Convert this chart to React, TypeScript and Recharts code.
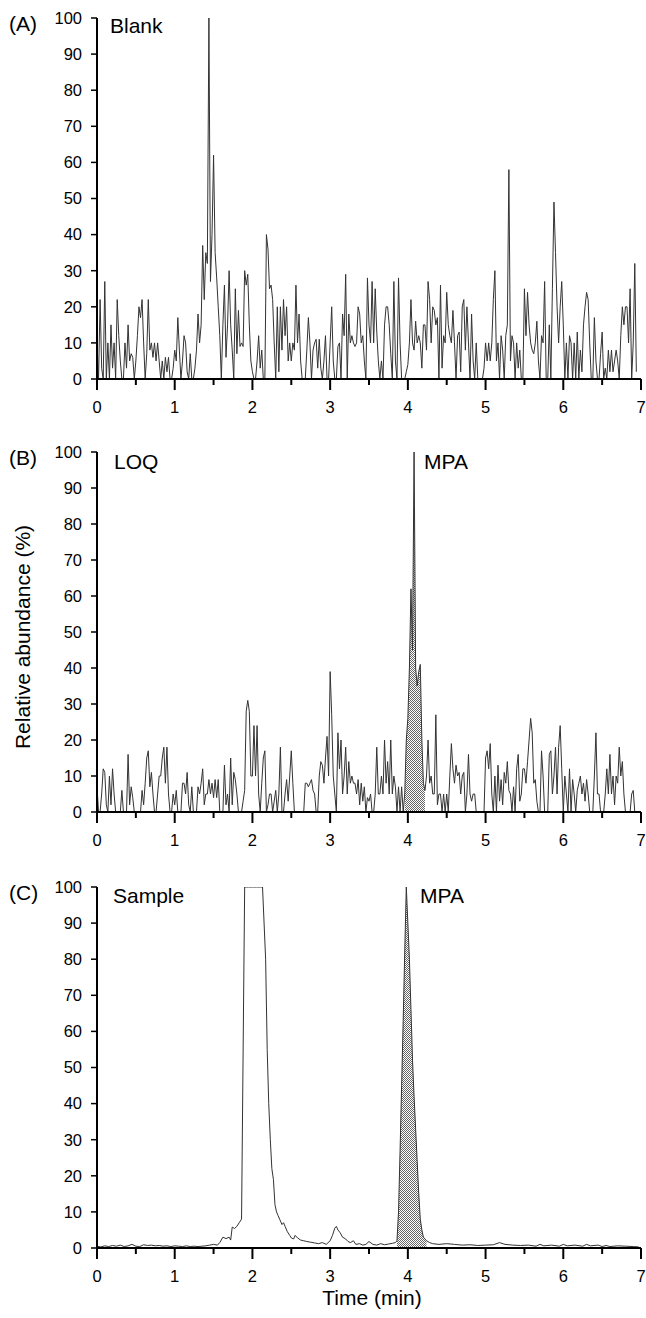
import { ComposedChart, Line, Area, XAxis, YAxis } from "recharts";

const FONT = '"Liberation Sans", Arial, sans-serif';

// sampling step of the noisy traces (min)
const STEP = 0.02;

// (A) Blank – relative abundance every 0.02 min from 0 to 6.94
const BLANK = [
  10, 0, 22, 3, 0, 27, 0, 10, 0, 15, 3, 10, 0, 22, 12, 5, 0, 0, 10, 3, 15, 5, 7, 6, 0,
  5, 12, 20, 17, 22, 10, 0, 7, 22, 8, 10, 6, 10, 5, 10, 5, 0, 5, 0, 6, 2, 6, 0, 0, 3,
  8, 5, 17, 8, 0, 5, 12, 10, 2, 0, 7, 0, 0, 3, 8, 18, 10, 15, 37, 22, 35, 32, 100, 27, 40,
  62, 35, 28, 20, 12, 0, 15, 26, 6, 15, 30, 15, 8, 0, 25, 7, 19, 9, 10, 9, 30, 26, 29, 15, 5,
  2, 0, 0, 5, 12, 3, 8, 0, 0, 40, 36, 25, 26, 22, 10, 0, 20, 2, 20, 8, 22, 12, 20, 5, 10,
  5, 10, 8, 26, 10, 18, 5, 0, 0, 0, 8, 17, 10, 0, 8, 10, 11, 3, 11, 3, 0, 5, 12, 0, 0,
  10, 20, 5, 0, 0, 9, 10, 0, 18, 12, 29, 0, 18, 10, 12, 10, 9, 10, 20, 18, 10, 12, 5, 0, 28,
  15, 10, 27, 10, 25, 13, 5, 0, 5, 0, 15, 20, 20, 15, 7, 0, 27, 5, 0, 28, 10, 0, 0, 0, 2,
  4, 10, 22, 10, 8, 16, 10, 12, 10, 3, 15, 15, 8, 27, 22, 10, 20, 19, 15, 17, 0, 26, 3, 12, 10,
  24, 15, 12, 10, 19, 10, 0, 12, 13, 2, 20, 22, 8, 20, 10, 0, 18, 5, 0, 10, 0, 0, 0, 0, 3,
  10, 5, 10, 5, 10, 22, 30, 5, 10, 0, 12, 8, 0, 12, 15, 58, 5, 12, 10, 0, 10, 3, 8, 0, 0,
  25, 12, 24, 15, 10, 8, 7, 10, 16, 5, 0, 12, 10, 27, 0, 0, 15, 0, 25, 49, 35, 20, 10, 20, 27,
  15, 0, 10, 0, 12, 10, 0, 10, 0, 13, 0, 8, 2, 15, 20, 24, 22, 10, 0, 0, 17, 5, 0, 0, 7,
  13, 0, 3, 0, 8, 2, 8, 2, 5, 8, 5, 0, 12, 20, 15, 20, 20, 10, 25, 0, 10, 32, 2,
];

// (B) LOQ – every 0.02 min from 0 to 6.92
const LOQ = [
  7, 0, 0, 5, 12, 11, 2, 0, 10, 2, 12, 5, 0, 0, 0, 0, 6, 0, 0, 0, 16, 2, 7, 4, 0,
  0, 0, 0, 0, 6, 2, 8, 15, 17, 7, 11, 5, 0, 0, 5, 10, 10, 15, 18, 8, 18, 5, 0, 0, 5,
  2, 6, 0, 0, 0, 8, 8, 5, 11, 2, 0, 7, 0, 0, 0, 7, 5, 8, 12, 2, 5, 5, 9, 5, 8,
  4, 9, 4, 9, 0, 0, 0, 13, 2, 5, 0, 15, 2, 11, 9, 5, 0, 0, 0, 3, 6, 28, 31, 28, 10,
  10, 24, 10, 24, 5, 0, 8, 15, 17, 0, 2, 5, 5, 0, 3, 6, 0, 5, 18, 0, 0, 5, 9, 3, 10,
  17, 8, 0, 0, 0, 0, 0, 0, 0, 8, 8, 7, 8, 9, 6, 5, 0, 0, 10, 14, 13, 8, 15, 21, 10,
  39, 27, 10, 5, 0, 22, 12, 20, 5, 10, 18, 5, 14, 8, 10, 8, 8, 5, 9, 2, 8, 3, 7, 0, 4,
  3, 5, 0, 0, 5, 18, 5, 5, 10, 5, 20, 8, 14, 5, 20, 5, 10, 7, 0, 7, 0, 7, 0, 5, 20,
  26, 40, 62, 45, 100, 40, 35, 39, 41, 20, 8, 6, 10, 20, 8, 10, 5, 5, 27, 2, 5, 5, 0, 5, 0,
  5, 0, 10, 19, 12, 8, 13, 10, 11, 5, 10, 11, 0, 5, 16, 5, 3, 5, 5, 0, 0, 0, 0, 0, 0,
  15, 17, 12, 19, 5, 0, 10, 0, 13, 3, 9, 2, 11, 8, 14, 6, 5, 0, 7, 0, 12, 16, 3, 5, 12,
  12, 8, 14, 20, 26, 22, 8, 9, 3, 0, 0, 17, 10, 0, 0, 0, 16, 17, 5, 10, 18, 5, 18, 24, 12,
  0, 10, 5, 0, 12, 0, 9, 5, 0, 6, 8, 10, 5, 8, 3, 9, 5, 0, 0, 0, 10, 22, 5, 5, 0,
  0, 0, 5, 12, 5, 16, 5, 10, 2, 10, 8, 18, 10, 14, 5, 0, 0, 0, 0, 5, 6, 0,
];
const LOQ_PEAK = [3.96, 4.22];

// (C) Sample – smoother trace, irregular time points
const SAMPLE_T = [
  0, 0.05, 0.1, 0.15, 0.2, 0.25, 0.3, 0.35, 0.4, 0.45, 0.5, 0.55, 0.6, 0.65, 0.7, 0.75, 0.8, 0.85, 0.9, 0.95,
  1.0, 1.05, 1.1, 1.15, 1.2, 1.25, 1.3, 1.35, 1.4, 1.45, 1.5, 1.55, 1.58, 1.62, 1.66, 1.7, 1.72, 1.74, 1.77, 1.8,
  1.83, 1.86, 1.9, 1.95, 2.0, 2.05, 2.1, 2.13, 2.17, 2.19, 2.21, 2.23, 2.25, 2.27, 2.29, 2.31, 2.33, 2.35, 2.38, 2.4,
  2.42, 2.45, 2.48, 2.5, 2.53, 2.55, 2.58, 2.62, 2.66, 2.7, 2.75, 2.8, 2.85, 2.9, 2.95, 3.0, 3.03, 3.06, 3.08, 3.1,
  3.13, 3.16, 3.2, 3.23, 3.26, 3.3, 3.33, 3.38, 3.42, 3.46, 3.5, 3.55, 3.6, 3.65, 3.7, 3.75, 3.8, 3.84, 3.86, 3.88,
  3.9, 3.92, 3.94, 3.96, 3.98, 4.0, 4.02, 4.04, 4.06, 4.08, 4.1, 4.12, 4.14, 4.16, 4.18, 4.2, 4.24, 4.28, 4.32, 4.4,
  4.5, 4.6, 4.7, 4.8, 4.9, 5.0, 5.1, 5.18, 5.25, 5.35, 5.45, 5.55, 5.65, 5.7, 5.75, 5.85, 5.95, 6.0, 6.05, 6.15,
  6.25, 6.3, 6.35, 6.45, 6.5, 6.55, 6.6, 6.7, 6.8, 6.9, 6.97,
];
const SAMPLE_V = [
  0.5, 0.3, 0.6, 0.4, 0.7, 0.5, 0.8, 0.4, 0.6, 1.0, 0.5, 0.4, 0.9, 0.7, 0.8, 0.6, 0.7, 0.5, 0.6, 0.4,
  0.6, 0.5, 0.4, 0.6, 0.4, 0.5, 0.4, 0.5, 0.6, 0.8, 1.0, 0.8, 1.5, 3.0, 2.6, 3.0, 2.2, 5.8, 5.4, 6.0,
  7.0, 8.0, 100, 100, 100, 100, 100, 100, 80, 55, 40, 30, 22, 19, 12, 10, 9, 8, 6.5, 7,
  6, 4.5, 3.5, 2.8, 2.5, 3.5, 2.8, 2.2, 2.0, 1.8, 1.6, 1.4, 1.2, 1.5, 1.0, 2.0, 3.5, 5.5, 6.0, 5.0,
  4.2, 3.0, 2.5, 1.8, 1.5, 2.0, 1.0, 1.2, 0.8, 1.0, 1.8, 1.0, 0.8, 1.2, 0.9, 1.1, 1.3, 1.5, 2.0, 10,
  27, 45, 63, 82, 100, 90, 80, 66, 52, 42, 33, 24, 15, 8, 5, 3, 2.0, 1.5, 1.2, 1.0,
  1.2, 1.0, 0.8, 0.9, 0.7, 0.8, 0.9, 1.5, 1.0, 0.8, 0.7, 0.8, 0.5, 1.0, 0.6, 0.8, 0.5, 1.0, 0.6, 0.8,
  0.5, 1.0, 0.6, 0.8, 0.4, 0.7, 0.4, 0.6, 0.5, 0.4, 0.3,
];
const SAMPLE_PEAK = [3.86, 4.24];

const TIME_TICKS = [0, 0.5, 1, 1.5, 2, 2.5, 3, 3.5, 4, 4.5, 5, 5.5, 6, 6.5, 7];
const ABUND_TICKS = [0, 10, 20, 30, 40, 50, 60, 70, 80, 90, 100];

type Pt = { t: number; v: number; fill: number | null };

const inRange = (t: number, r: number[] | null) => !!r && t >= r[0] - 1e-9 && t <= r[1] + 1e-9;

const blankData: Pt[] = BLANK.map((v, i) => ({ t: +(i * STEP).toFixed(2), v, fill: null }));
const loqData: Pt[] = LOQ.map((v, i) => {
  const t = +(i * STEP).toFixed(2);
  return { t, v, fill: inRange(t, LOQ_PEAK) ? v : null };
});
const sampleData: Pt[] = SAMPLE_T.map((t, i) => ({
  t,
  v: SAMPLE_V[i],
  fill: inRange(t, SAMPLE_PEAK) ? SAMPLE_V[i] : null,
}));

function TimeTick(props: any) {
  const { x, y, payload } = props;
  const major = Math.abs(payload.value - Math.round(payload.value)) < 1e-6;
  return (
    <g>
      <line x1={x} x2={x} y1={y} y2={y + (major ? 11 : 6)} stroke="#000" strokeWidth={2} />
      {major && (
        <text x={x} y={y + 34} textAnchor="middle" fontSize={16.5} fontFamily={FONT} fill="#000">
          {payload.value}
        </text>
      )}
    </g>
  );
}

function Panel({ data, top, height, mTop, mBottom, shaded }: {
  data: Pt[]; top: number; height: number; mTop: number; mBottom: number; shaded: boolean;
}) {
  return (
    <div style={{ position: "absolute", left: 0, top, width: 646, height }}>
      <ComposedChart width={646} height={height} data={data} margin={{ top: mTop, right: 5, bottom: mBottom, left: 0 }}>
        <defs>
          <pattern id="stipple" width="2" height="2" patternUnits="userSpaceOnUse">
            <rect width="2" height="2" fill="#fff" />
            <rect width="1" height="1" fill="#666" />
            <rect x="1" y="1" width="1" height="1" fill="#666" />
          </pattern>
        </defs>
        <XAxis
          dataKey="t"
          type="number"
          domain={[0, 7]}
          ticks={TIME_TICKS}
          interval={0}
          height={30}
          tickSize={0}
          tickMargin={0}
          tickLine={false}
          tick={<TimeTick />}
          axisLine={{ stroke: "#000", strokeWidth: 2 }}
        />
        <YAxis
          type="number"
          domain={[0, 100]}
          ticks={ABUND_TICKS}
          interval={0}
          width={97}
          allowDataOverflow
          tickSize={6}
          tickMargin={9}
          tick={{ fill: "#000", fontSize: 16.5, fontFamily: FONT }}
          tickLine={{ stroke: "#000", strokeWidth: 1.5 }}
          axisLine={{ stroke: "#000", strokeWidth: 2 }}
        />
        {shaded && (
          <Area
            dataKey="fill"
            type="linear"
            stroke="none"
            fill="url(#stipple)"
            fillOpacity={1}
            baseValue={0}
            connectNulls={false}
            isAnimationActive={false}
          />
        )}
        <Line dataKey="v" type="linear" stroke="#333" strokeWidth={1} dot={false} isAnimationActive={false} />
      </ComposedChart>
    </div>
  );
}

export default function App() {
  const txt = { fontFamily: FONT, fontSize: 21, fill: "#000" } as const;
  return (
    <div style={{ position: "absolute", left: 0, top: 0, width: 646, height: 1318, background: "#fff" }}>
      <Panel data={blankData} top={0} height={430} mTop={18} mBottom={21} shaded={false} />
      <Panel data={loqData} top={430} height={430} mTop={22} mBottom={18} shaded />
      <Panel data={sampleData} top={860} height={458} mTop={27} mBottom={40} shaded />
      <svg width={646} height={1318} style={{ position: "absolute", left: 0, top: 0, pointerEvents: "none" }}>
        <text x={9} y={31} {...txt}>(A)</text>
        <text x={110} y={33} {...txt}>Blank</text>
        <text x={9} y={465} {...txt}>(B)</text>
        <text x={114} y={469} {...txt}>LOQ</text>
        <text x={424} y={469} {...txt}>MPA</text>
        <text x={9} y={900} {...txt}>(C)</text>
        <text x={113} y={903} {...txt}>Sample</text>
        <text x={420} y={903} {...txt}>MPA</text>
        <text x={30} y={637} textAnchor="middle" transform="rotate(-90 30 637)" {...txt}>
          Relative abundance (%)
        </text>
        <text x={372} y={1305} textAnchor="middle" {...txt}>Time (min)</text>
      </svg>
    </div>
  );
}
